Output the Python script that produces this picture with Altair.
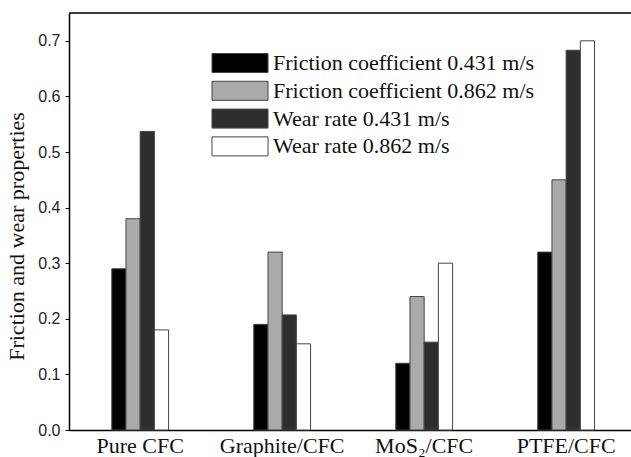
import altair as alt
import pandas as pd

categories = ["Pure CFC", "Graphite/CFC", "MoS\u2082/CFC", "PTFE/CFC"]
series = [
    "Friction coefficient 0.431 m/s",
    "Friction coefficient 0.862 m/s",
    "Wear rate 0.431 m/s",
    "Wear rate 0.862 m/s",
]
fc_431 = [0.29, 0.19, 0.12, 0.32]
fc_862 = [0.38, 0.32, 0.24, 0.45]
wr_431 = [0.537, 0.207, 0.158, 0.683]
wr_862 = [0.18, 0.155, 0.30, 0.70]
colors = ["#000000", "#aaaaaa", "#2e2e2e", "#ffffff"]
y_ticks = [0.0, 0.1, 0.2, 0.3, 0.4, 0.5, 0.6, 0.7]

rows = []
for s, vals in zip(series, [fc_431, fc_862, wr_431, wr_862]):
    for c, v in zip(categories, vals):
        rows.append({"category": c, "series": s, "value": v})
df = pd.DataFrame(rows)

W, H = 562, 417

bars = alt.Chart(df).mark_bar(stroke="#444444", strokeWidth=1).encode(
    x=alt.X("category:N", sort=categories,
            scale=alt.Scale(paddingInner=0.6, paddingOuter=0.279, align=0.54),
            axis=alt.Axis(title=None, labelAngle=0, ticks=False, labelPadding=5,
                          labelFont="Liberation Serif", labelFontSize=22,
                          labelColor="#111111", domainColor="#000000",
                          domainWidth=1.5)),
    xOffset=alt.XOffset("series:N", sort=series,
                        scale=alt.Scale(paddingInner=0, paddingOuter=0)),
    y=alt.Y("value:Q",
            scale=alt.Scale(domain=[0, 0.75], nice=False),
            axis=alt.Axis(title="Friction and wear properties", values=y_ticks,
                          format=".1f", grid=False, tickSize=4, tickColor="#000000",
                          labelPadding=5, labelFont="Liberation Sans", labelFontSize=16,
                          labelColor="#222222", domainColor="#000000", domainWidth=1.5,
                          titleFont="Liberation Serif", titleFontSize=22,
                          titleFontWeight="normal", titleColor="#111111",
                          titleX=-41, titleY=223, titleAlign="center",
                          titleAngle=-90)),
    color=alt.Color("series:N", sort=series,
                    scale=alt.Scale(domain=series, range=colors),
                    legend=alt.Legend(title=None, orient="none", legendX=160, legendY=39,
                                      symbolType="M-4,-1.36L4,-1.36L4,1.36L-4,1.36Z",
                                      symbolSize=196, symbolStrokeColor="#444444",
                                      symbolStrokeWidth=1, symbolOpacity=1,
                                      labelFont="Liberation Serif", labelFontSize=22,
                                      labelColor="#111111", labelOffset=22,
                                      labelLimit=400, rowPadding=3.8, padding=0)),
)

top = alt.Chart(pd.DataFrame({"y": [0.75]})).mark_rule(color="#000000", strokeWidth=1.5).encode(
    y=alt.Y("y:Q"), x=alt.value(0), x2=alt.value(W)
)

chart = alt.layer(bars, top).properties(
    width=W, height=H,
    autosize=alt.AutoSizeParams(type="none"),
    padding={"left": 69, "top": 13, "right": 0, "bottom": 27},
).configure_view(stroke=None).configure(background="#ffffff")

chart.save("out.html", embed_options={"renderer": "svg", "actions": False})
